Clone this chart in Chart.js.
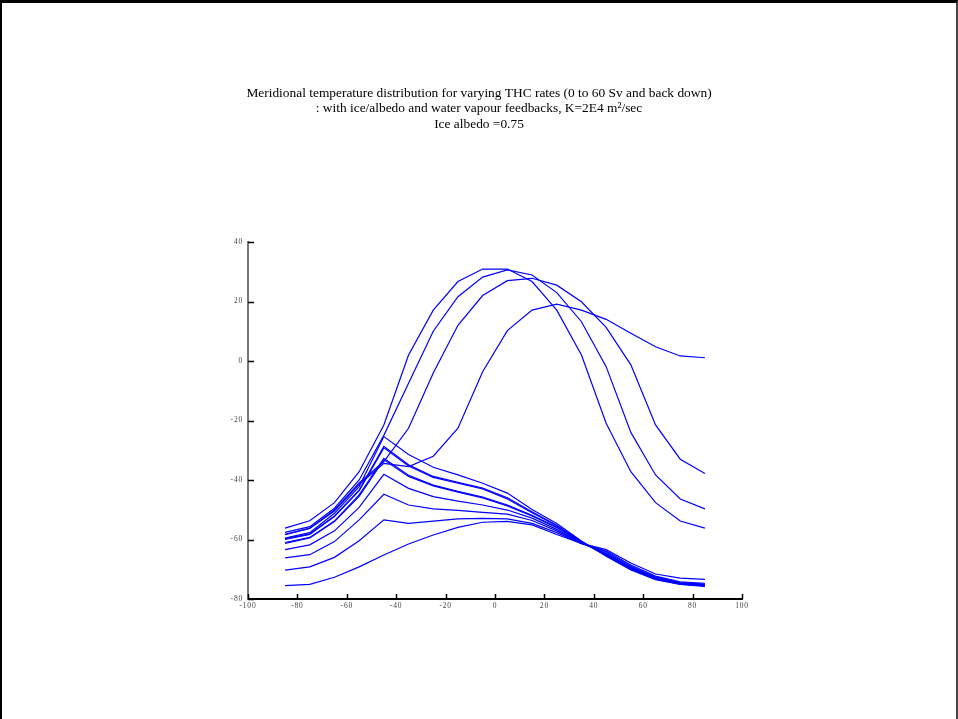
<!DOCTYPE html>
<html>
<head>
<meta charset="utf-8">
<script src="https://cdn.jsdelivr.net/npm/chart.js@4.4.1/dist/chart.umd.min.js"></script>
<style>
  html, body { margin: 0; padding: 0; background: #fff; }
  #wrap { position: relative; width: 958px; height: 719px; }
  #frame {
    position: absolute; left: 0; top: 0; width: 958px; height: 719px;
    box-sizing: border-box; pointer-events: none;
    border-top: 3px solid #000; border-left: 2px solid #000; border-right: 2px solid #444;
  }
</style>
</head>
<body>
<div id="wrap">
  <canvas id="chart" width="958" height="719"></canvas>
  <div id="frame"></div>
</div>
<script>
// latitude bands (deg)
const lat = [-85, -75, -65, -55, -45, -35, -25, -15, -5, 5, 15, 25, 35, 45, 55, 65, 75, 85];

// axis ticks
const xTickValues = [-100, -80, -60, -40, -20, 0, 20, 40, 60, 80, 100];
const yTickValues = [-80, -60, -40, -20, 0, 20, 40];

const titleLines = [
  'Meridional temperature distribution for varying THC rates (0 to 60 Sv and back down)',
  ': with ice/albedo and water vapour feedbacks, K=2E4 m\u00B2/sec',
  'Ice albedo =0.75'
];

// warm states
const warmA = [-56.2, -53.7, -47.6, -37.2, -21.5, 2.0, 17.1, 26.7, 30.9, 30.9, 26.7, 17.1, 2.0, -20.9, -37.2, -47.6, -53.8, -56.2];
const warmB = [-57.6, -55.7, -49.5, -40.0, -25.0, -7.5, 10.0, 21.6, 28.2, 30.6, 28.9, 23.0, 13.2, -1.9, -24.0, -38.3, -46.4, -49.7];
const warmC = [-58.3, -56.2, -50.1, -41.0, -33.8, -22.6, -4.0, 12.0, 22.0, 27.0, 27.8, 25.5, 19.9, 11.3, -1.3, -21.5, -33.0, -37.8];
const warmD = [-58.4, -56.3, -50.4, -41.5, -34.4, -35.5, -32.0, -22.6, -3.6, 10.2, 17.1, 19.1, 17.1, 14.0, 9.3, 4.8, 1.7, 1.1];

// cold states
const cold0 = [-75.5, -75.1, -72.7, -69.2, -65.2, -61.5, -58.5, -55.9, -54.2, -53.9, -55.1, -58.3, -61.3, -63.4, -67.9, -71.6, -73.0, -73.4];
const cold1 = [-70.3, -69.2, -66.0, -60.4, -53.4, -54.6, -53.8, -53.1, -52.9, -53.1, -54.6, -57.7, -61.4, -63.9, -68.6, -72.3, -74.2, -74.7];
const cold2 = [-66.2, -65.1, -60.7, -53.4, -44.8, -48.4, -49.7, -50.2, -50.9, -51.5, -53.6, -57.1, -61.3, -64.2, -69.0, -72.6, -74.5, -75.0];
const cold3 = [-63.4, -61.8, -57.1, -49.2, -38.1, -42.8, -45.6, -47.1, -48.4, -50.1, -52.8, -56.6, -61.2, -64.6, -69.3, -72.8, -74.6, -75.2];
const cold4 = [-61.3, -59.5, -54.0, -45.5, -33.2, -38.8, -42.0, -44.1, -46.0, -48.7, -52.1, -56.0, -61.1, -64.9, -69.5, -73.0, -74.7, -75.3];
const cold5 = [-61.0, -59.3, -53.8, -45.0, -32.7, -38.4, -41.7, -43.8, -45.7, -48.4, -51.9, -55.8, -61.0, -65.1, -69.6, -73.1, -74.8, -75.4];
const cold6 = [-60.0, -58.3, -52.3, -43.6, -29.2, -35.3, -39.1, -41.1, -43.0, -46.4, -51.0, -55.4, -60.8, -65.3, -69.8, -73.2, -74.9, -75.5];
const cold7 = [-59.7, -58.1, -52.1, -43.4, -28.7, -34.9, -38.8, -40.8, -42.7, -46.0, -50.7, -55.2, -60.7, -65.4, -69.9, -73.3, -75.0, -75.6];
const cold8 = [-59.5, -57.7, -51.2, -42.2, -25.4, -31.4, -35.7, -38.3, -41.1, -44.4, -49.9, -54.6, -60.5, -65.6, -70.2, -73.5, -75.1, -75.8];

const allSeries = [cold0, cold1, cold2, cold3, cold4, cold5, cold6, cold7, cold8, warmA, warmB, warmC, warmD];

const lineColor = '#0000ff';

// title drawn as canvas text, centred on the page
const titlePlugin = {
  id: 'pageTitle',
  afterDraw(chart) {
    const ctx = chart.ctx;
    ctx.save();
    ctx.letterSpacing = '0px';
    ctx.fillStyle = '#000';
    ctx.font = "13.4px 'Liberation Serif', 'Times New Roman', serif";
    ctx.textAlign = 'center';
    ctx.textBaseline = 'alphabetic';
    titleLines.forEach((t, i) => ctx.fillText(t, 479, 96.5 + i * 15.5));
    ctx.restore();
  }
};

// tick marks pointing into the plot, plus a little letter spacing for tick labels
const innerTicks = {
  id: 'innerTicks',
  beforeDraw(chart) {
    chart.ctx.letterSpacing = '0.8px';
  },
  afterDraw(chart) {
    const ctx = chart.ctx;
    ctx.letterSpacing = '0px';
    const { x, y } = chart.scales;
    ctx.save();
    ctx.strokeStyle = '#000';
    ctx.lineWidth = 1.5;
    ctx.beginPath();
    x.ticks.forEach(t => {
      const px = Math.round(x.getPixelForValue(t.value)) + 0.5;
      ctx.moveTo(px, y.bottom);
      ctx.lineTo(px, y.bottom - 5);
    });
    y.ticks.forEach(t => {
      const py = Math.round(y.getPixelForValue(t.value)) + 0.5;
      ctx.moveTo(x.left, py);
      ctx.lineTo(x.left + 6, py);
    });
    ctx.stroke();
    ctx.restore();
  }
};

const tickFont = { family: "'Liberation Serif', 'Times New Roman', serif", size: 7.5 };

new Chart(document.getElementById('chart').getContext('2d'), {
  type: 'line',
  data: {
    datasets: allSeries.map((s, i) => ({
      label: 'run ' + (i + 1),
      data: lat.map((v, j) => ({ x: v, y: s[j] })),
      borderColor: lineColor,
      borderWidth: 1.2,
      pointRadius: 0,
      fill: false,
      tension: 0
    }))
  },
  options: {
    responsive: false,
    animation: false,
    devicePixelRatio: 1,
    layout: { padding: { left: 200, right: 216, top: 242, bottom: 100 } },
    plugins: {
      legend: { display: false },
      title: { display: false },
      tooltip: { enabled: false }
    },
    scales: {
      x: {
        type: 'linear',
        min: -100,
        max: 100,
        afterBuildTicks: s => { s.ticks = xTickValues.map(v => ({ value: v })); },
        afterFit: s => { s.height = 20; },
        grid: { display: false, drawTicks: false },
        border: { display: true, color: '#000', width: 2 },
        ticks: {
          color: '#444',
          font: tickFont,
          padding: 3,
          maxRotation: 0,
          autoSkip: false
        }
      },
      y: {
        type: 'linear',
        min: -80,
        max: 40,
        afterBuildTicks: s => { s.ticks = yTickValues.map(v => ({ value: v })); },
        afterFit: s => { s.width = 48; },
        grid: { display: false, drawTicks: false },
        border: { display: true, color: '#777', width: 2 },
        ticks: {
          color: '#444',
          font: tickFont,
          padding: 5,
          autoSkip: false
        }
      }
    }
  },
  plugins: [titlePlugin, innerTicks]
});
</script>
</body>
</html>
